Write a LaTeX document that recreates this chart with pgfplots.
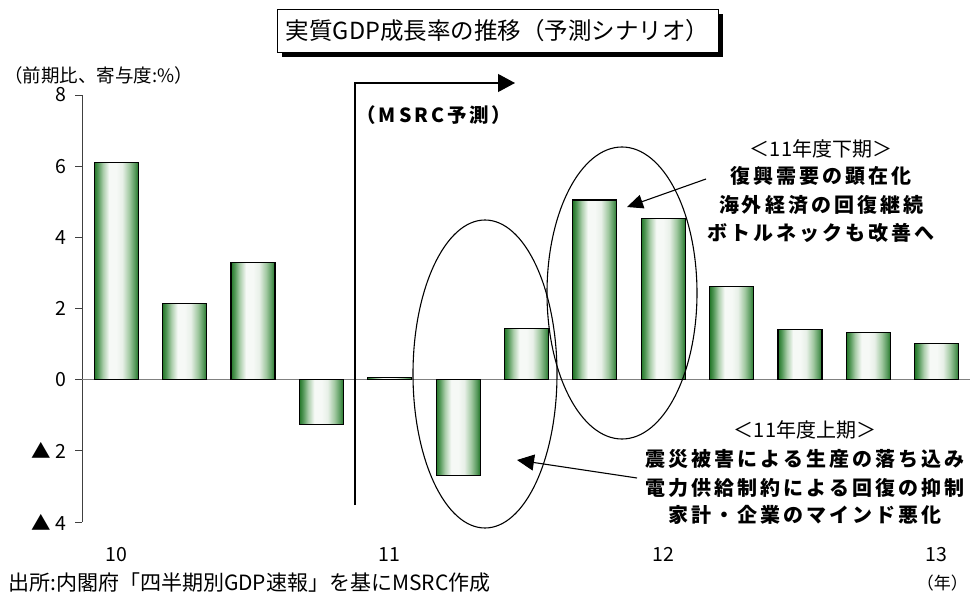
\documentclass[border=0pt]{standalone}
\usepackage{fontspec}
\setmainfont{Noto Sans CJK JP}
\usepackage{pgfplots}
\pgfplotsset{compat=1.18}
\usetikzlibrary{arrows.meta}

\definecolor{gedge}{RGB}{34,118,40}
\definecolor{gB}{RGB}{80,150,85}
\definecolor{gC}{RGB}{170,205,170}
\definecolor{gW}{RGB}{246,249,246}
\definecolor{gD}{RGB}{232,240,232}
\definecolor{gE}{RGB}{160,200,160}
\definecolor{gF}{RGB}{90,155,95}
\pgfdeclarehorizontalshading{barshade}{100bp}{color(0bp)=(gedge); color(25bp)=(gedge);
  color(29bp)=(gB); color(35bp)=(gC); color(42bp)=(gW); color(50bp)=(gW);
  color(57bp)=(gD); color(65bp)=(gE); color(71bp)=(gF); color(75bp)=(gedge); color(100bp)=(gedge)}

\newcommand\fs[1]{\fontsize{#1bp}{#1bp}\selectfont}
\newcommand\ls{\addfontfeature{LetterSpace=15}}

% one plot per bar, so that every bar gets its own shading
\pgfplotsset{gbar/.style={ybar, bar width=44bp, draw=black, line width=1.1pt, shade, shading=barshade}}

\begin{document}
\begin{tikzpicture}
\useasboundingbox (0,0) rectangle (970bp,-597bp);
\begin{axis}[
  at={(82bp,-522bp)}, anchor=south west,
  scale only axis, width=889bp, height=427bp,
  xmin=0.5, xmax=13.5, ymin=-4, ymax=8,
  axis y line*=left, axis x line*=bottom,
  x axis line style={draw=none},
  xtick={1,5,9,13}, xticklabels={10,11,12,13},
  xtick style={draw=none},
  xticklabel style={font=\fs{19.5}, yshift=-15bp},
  ytick={-4,-2,0,2,4,6,8}, yticklabels={▲ 4,▲ 2,0,2,4,6,8},
  yticklabel style={font=\fs{19.5}, xshift=-5bp},
  y axis line style={line width=0.8pt, black!75},
  ytick style={line width=0.8pt, black!75},
  tick align=outside, major tick length=7bp,
  /pgf/number format/assume math mode=true,
  extra y ticks={0}, extra y tick labels={},
  extra y tick style={grid=major, major grid style={black!50, line width=1.6pt}},
  clip=false,
]
\addplot[gbar] coordinates {(1,6.1)};
\addplot[gbar] coordinates {(2,2.15)};
\addplot[gbar] coordinates {(3,3.3)};
\addplot[gbar] coordinates {(4,-1.27)};
\addplot[gbar] coordinates {(5,0.06)};
\addplot[gbar] coordinates {(6,-2.7)};
\addplot[gbar] coordinates {(7,1.45)};
\addplot[gbar] coordinates {(8,5.05)};
\addplot[gbar] coordinates {(9,4.52)};
\addplot[gbar] coordinates {(10,2.62)};
\addplot[gbar] coordinates {(11,1.41)};
\addplot[gbar] coordinates {(12,1.32)};
\addplot[gbar] coordinates {(13,1.02)};
\end{axis}

\begin{scope}[x=1bp,y=-1bp]
  % title
  \fill[black] (282,14) rectangle (723,57);
  \draw[fill=white, line width=0.8pt] (277,9) rectangle (718,52);
  \node[font=\fs{23.5}] at (497.5,31) {実質GDP成長率の推移（予測シナリオ）};
  % unit
  \node[anchor=west, font=\fs{18.5}, inner sep=0pt] at (4,75) {（前期比、寄与度:\%）};
  % forecast marker
  \draw[line width=1.2pt, -{Triangle[length=17bp,width=18bp]}] (355,505) -- (355,83) -- (515,83);
  \node[font=\fs{19.5}\bfseries\ls] at (434,115) {（MSRC予測）};
  % ellipses
  \draw[line width=1.1pt] (485,374) ellipse [x radius=72bp, y radius=154bp];
  \draw[line width=1.1pt] (622,293) ellipse [x radius=75bp, y radius=146bp];
  % arrows
  \draw[line width=1.1pt, -{Triangle[length=16bp,width=14bp]}] (706,179) -- (627,207);
  \draw[line width=1.1pt, -{Triangle[length=17bp,width=16bp]}] (637,478) -- (517,460);
  % upper annotation
  \node[font=\fs{20}] at (821,149) {＜11年度下期＞};
  \node[font=\fs{20}\bfseries\ls] at (821,176) {復興需要の顕在化};
  \node[font=\fs{20}\bfseries\ls] at (821,205) {海外経済の回復継続};
  \node[font=\fs{20}\bfseries\ls] at (821,233) {ボトルネックも改善へ};
  % lower annotation
  \node[font=\fs{20}] at (805,430) {＜11年度上期＞};
  \node[font=\fs{20}\bfseries\ls] at (805,459) {震災被害による生産の落ち込み};
  \node[font=\fs{20}\bfseries\ls] at (805,488) {電力供給制約による回復の抑制};
  \node[font=\fs{20}\bfseries\ls] at (805,515) {家計・企業のマインド悪化};
  % footer
  \node[anchor=west, font=\fs{21}, inner sep=0pt] at (8,583) {出所:内閣府「四半期別GDP速報」を基にMSRC作成};
  \node[anchor=east, font=\fs{17}, inner sep=0pt] at (968,583) {（年）};
\end{scope}
\end{tikzpicture}
\end{document}
